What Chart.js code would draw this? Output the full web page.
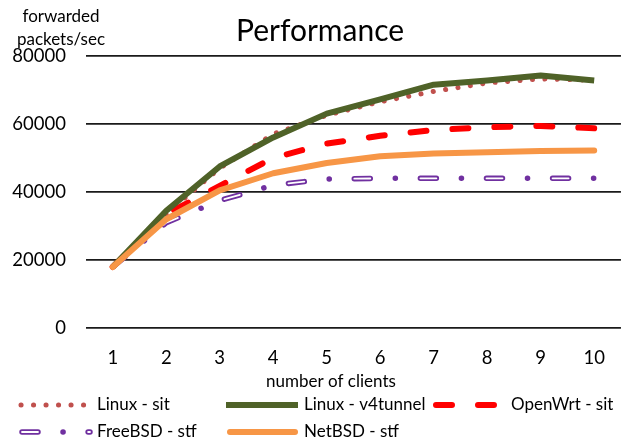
<!DOCTYPE html>
<html>
<head>
<meta charset="utf-8">
<script src="https://cdn.jsdelivr.net/npm/chart.js@4.4.1/dist/chart.umd.min.js"></script>
<style>
  html, body { margin: 0; padding: 0; background: #fff; }
  #wrap { width: 624px; height: 447px; }
</style>
</head>
<body>
<div id="wrap"><canvas id="perf" width="624" height="447"></canvas></div>
<script>
// values
const clients = ['1', '2', '3', '4', '5', '6', '7', '8', '9', '10'];
const linuxSit = [18000, 33500, 47000, 57000, 62500, 66500, 69500, 72000, 73200, 72800];
const linuxV4tunnel = [18000, 34500, 47500, 56000, 63000, 67200, 71500, 72700, 74200, 72700];
const openwrtSit = [18000, 33500, 41800, 50000, 54200, 56500, 58200, 59000, 59400, 58700];
const freebsdStf = [18000, 31000, 37500, 42000, 43800, 44000, 44000, 44000, 44000, 44000];
const netbsdStf = [18000, 32000, 40500, 45500, 48500, 50500, 51300, 51700, 52000, 52200];
const yTicks = [0, 20000, 40000, 60000, 80000];
const legendOrder = ['Linux - sit', 'Linux - v4tunnel', 'OpenWrt - sit', 'FreeBSD - stf', 'NetBSD - stf'];

const FONT = 'Lato, "Open Sans", sans-serif';

// title, axis titles + legend, placed like the excel original (fixed legend columns)
const extras = {
  id: 'extras',
  afterDraw(chart) {
    const ctx = chart.ctx;
    const sets = chart.data.datasets;
    ctx.save();
    ctx.fillStyle = '#000';
    ctx.textAlign = 'center';
    ctx.textBaseline = 'middle';
    ctx.font = '30px ' + FONT;
    ctx.fillText('Performance', 320, 31);
    ctx.font = '17px ' + FONT;
    ctx.fillText('forwarded', 61, 17);
    ctx.fillText('packets/sec', 61, 40);
    ctx.fillText('number of clients', 331, 382);

    const cols = [19, 226, 433];
    const rows = [405, 432];
    legendOrder.forEach((label, i) => {
      const x = cols[i % 3];
      const y = rows[Math.floor(i / 3)];
      const ds = sets.find(d => d.label === label);
      const stroke = (d) => {
        ctx.save();
        ctx.strokeStyle = d.borderColor;
        ctx.lineWidth = d.borderWidth;
        ctx.lineCap = d.borderCapStyle || 'butt';
        ctx.setLineDash(d.borderDash || []);
        ctx.beginPath();
        ctx.moveTo(x + d.legendFrom, y);
        ctx.lineTo(x + d.legendTo, y);
        ctx.stroke();
        ctx.restore();
      };
      stroke(ds);
      const over = sets.find(d => d.overlayOf === label);
      if (over) stroke(Object.assign({}, over, { legendFrom: ds.legendFrom, legendTo: ds.legendTo }));
      ctx.textAlign = 'left';
      ctx.fillStyle = '#000';
      ctx.fillText(label, x + 78, y);
    });
    ctx.restore();
  }
};

new Chart(document.getElementById('perf'), {
  type: 'line',
  data: {
    labels: clients,
    datasets: [
      {
        label: 'NetBSD - stf', data: netbsdStf,
        borderColor: '#F79646', borderWidth: 6, borderCapStyle: 'round',
        legendFrom: 4, legendTo: 69
      },
      {
        label: 'Linux - v4tunnel', data: linuxV4tunnel,
        borderColor: '#4F6228', borderWidth: 6,
        legendFrom: 0, legendTo: 72
      },
      {
        label: 'OpenWrt - sit', data: openwrtSit,
        borderColor: '#FF0000', borderWidth: 6, borderCapStyle: 'round',
        borderDash: [16, 26],
        legendFrom: 3, legendTo: 62
      },
      {
        label: 'Linux - sit', data: linuxSit,
        borderColor: '#C0504D', borderWidth: 5, borderCapStyle: 'round',
        borderDash: [0.1, 12.4],
        legendFrom: 2, legendTo: 66
      },
      {
        // white core that makes the FreeBSD dashes look hollow
        label: '', overlayOf: 'FreeBSD - stf', data: freebsdStf,
        borderColor: '#FFFFFF', borderWidth: 1.8, borderCapStyle: 'round',
        borderDash: [16, 50.1]
      },
      {
        label: 'FreeBSD - stf', data: freebsdStf,
        borderColor: '#7030A0', borderWidth: 5.5, borderCapStyle: 'round',
        borderDash: [16, 25, 0.1, 25],
        legendFrom: 3, legendTo: 71
      }
    ]
  },
  options: {
    responsive: false,
    animation: false,
    events: [],
    elements: {
      point: { radius: 0 },
      line: { tension: 0, borderJoinStyle: 'round' }
    },
    layout: { padding: { left: 0, right: 1.5, top: 55.7, bottom: 54.6 } },
    plugins: {
      legend: { display: false },
      tooltip: { enabled: false },
      title: { display: false }
    },
    scales: {
      x: {
        offset: true,
        afterFit(s) { s.height = 64.1; },
        grid: { display: false, drawTicks: false },
        border: { display: false },
        ticks: { color: '#000', font: { family: FONT, size: 18.5 }, padding: 19, maxRotation: 0 }
      },
      y: {
        min: 0,
        max: 80000,
        afterFit(s) { s.width = 86; },
        afterBuildTicks(s) { s.ticks = yTicks.map(v => ({ value: v })); },
        grid: { color: '#1a1a1a', lineWidth: 1.8, drawTicks: false },
        border: { display: false },
        ticks: {
          color: '#000',
          font: { family: FONT, size: 18.5 },
          padding: 20,
          callback: v => String(v)
        }
      }
    }
  },
  plugins: [extras]
});
</script>
</body>
</html>
